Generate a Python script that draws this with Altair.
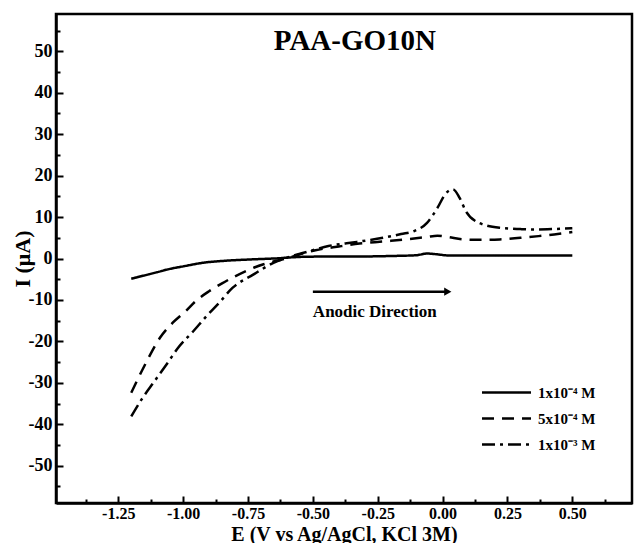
import altair as alt
import pandas as pd

# Cyclic voltammetry of PAA-GO10N, anodic sweep (E in V vs Ag/AgCl, I in µA)
E_low = [-1.20, -1.15, -1.10, -1.05, -1.00, -0.92, -0.85, -0.73, -0.65, -0.54, -0.40,
         -0.30, -0.20, -0.10, -0.06, -0.02, 0.03, 0.10, 0.20, 0.30, 0.40, 0.50]
I_low = [-4.9, -4.1, -3.3, -2.5, -1.9, -1.0, -0.6, -0.2, 0.0, 0.4, 0.5,
         0.5, 0.6, 0.8, 1.2, 1.0, 0.7, 0.7, 0.7, 0.7, 0.7, 0.7]

E_mid = [-1.20, -1.15, -1.09, -1.04, -0.99, -0.95, -0.90, -0.85, -0.80, -0.75, -0.69,
         -0.61, -0.49, -0.40, -0.32, -0.23, -0.14, -0.06, -0.02, 0.02, 0.08, 0.15,
         0.22, 0.30, 0.37, 0.43, 0.50]
I_mid = [-32.4, -26.0, -19.2, -15.5, -12.7, -10.2, -7.9, -6.0, -4.3, -2.8, -1.4,
         -0.1, 2.0, 2.9, 3.6, 4.1, 4.6, 5.2, 5.5, 5.2, 4.6, 4.5,
         4.6, 5.0, 5.4, 5.8, 6.4]

E_high = [-1.20, -1.16, -1.11, -1.06, -1.02, -0.96, -0.91, -0.86, -0.81, -0.73, -0.65,
          -0.60, -0.50, -0.44, -0.33, -0.23, -0.16, -0.11, -0.06, -0.02, 0.01, 0.04,
          0.065, 0.09, 0.14, 0.22, 0.30, 0.35, 0.42, 0.50]
I_high = [-38.1, -34.0, -29.6, -25.2, -21.6, -17.5, -13.9, -10.6, -7.1, -3.9, -1.0,
          0.2, 2.0, 3.0, 4.0, 5.0, 5.9, 6.6, 8.6, 12.2, 15.5, 16.7,
          14.7, 11.4, 8.6, 7.4, 7.1, 7.0, 7.1, 7.3]

series_names = ["1x10\u207b\u2074 M", "5x10\u207b\u2074 M", "1x10\u207b\u00b3 M"]
series_dash = [[1, 0], [12, 8], [13, 5, 3, 5]]

# Axis tick positions
x_major = [-1.25, -1.00, -0.75, -0.50, -0.25, 0.00, 0.25, 0.50]
x_minor = [-1.375, -1.125, -0.875, -0.625, -0.375, -0.125, 0.125, 0.375, 0.625]
y_major = [-50, -40, -30, -20, -10, 0, 10, 20, 30, 40, 50]
y_minor = [-55, -45, -35, -25, -15, -5, 5, 15, 25, 35, 45, 55]

# Annotations
title_text = ["PAA-GO10N"]
title_E = [-0.338]
title_I = [52.4]
arrow_E = [-0.50]
arrow_E2 = [0.02]
arrow_I = [-8.0]
note_text = ["Anodic Direction"]
note_E = [-0.50]
note_I = [-12.9]

FONT = "Liberation Serif, Times New Roman, serif"

frames = []
for name, e, i in [(series_names[0], E_low, I_low),
                   (series_names[1], E_mid, I_mid),
                   (series_names[2], E_high, I_high)]:
    frames.append(pd.DataFrame({"E": e, "I": i, "conc": name}))
cv = pd.concat(frames, ignore_index=True)

xscale = alt.Scale(domain=[-1.49, 0.73], nice=False, zero=False)
yscale = alt.Scale(domain=[-59, 59], nice=False, zero=False)

x_axis = alt.Axis(
    values=x_major, orient="bottom", grid=False,
    tickSize={"expr": "-7"}, tickWidth=2, tickColor="black",
    domainWidth=2.5, domainColor="black",
    labelExpr="replace(format(datum.value, '.2f'), '\u2212', '-')",
    labelFont=FONT, labelFontWeight="bold", labelFontSize=16, labelColor="black",
    labelPadding=9, labelFlush=False, labelOverlap=False,
    title="E (V vs Ag/AgCl, KCl 3M)", titleFont=FONT, titleFontWeight="bold",
    titleFontSize=20, titleColor="black", titleY=37, titleBaseline="alphabetic",
)
y_axis = alt.Axis(
    values=y_major, orient="left", grid=False,
    tickSize={"expr": "-7"}, tickWidth=2, tickColor="black",
    domainWidth=2.5, domainColor="black",
    labelExpr="replace(format(datum.value, 'd'), '\u2212', '-')",
    labelFont=FONT, labelFontWeight="bold", labelFontSize=18, labelColor="black",
    labelPadding=11, labelFlush=False, labelOverlap=False,
    title="I (\u03bcA)", titleFont=FONT, titleFontWeight="bold",
    titleFontSize=22, titleColor="black", titleX=-34, titleBaseline="middle",
)
x_axis_minor = alt.Axis(
    values=x_minor, orient="bottom", grid=False, labels=False, domain=False,
    tickSize={"expr": "-4"}, tickWidth=2, tickColor="black", title=None,
)
y_axis_minor = alt.Axis(
    values=y_minor, orient="left", grid=False, labels=False, domain=False,
    tickSize={"expr": "-4"}, tickWidth=2, tickColor="black", title=None,
)

curves = alt.Chart(cv).mark_line(
    color="black", strokeWidth=2.5, interpolate="monotone"
).encode(
    x=alt.X("E:Q", scale=xscale, axis=x_axis),
    y=alt.Y("I:Q", scale=yscale, axis=y_axis),
    strokeDash=alt.StrokeDash(
        "conc:N",
        scale=alt.Scale(domain=series_names, range=series_dash),
        sort=series_names,
        legend=alt.Legend(
            title=None, orient="none", legendX=443, legendY=371,
            symbolType="M-5,0H5", symbolSize=96, symbolStrokeWidth=2.5,
            symbolStrokeColor="black", symbolFillColor="black",
            labelFont=FONT, labelFontWeight="bold", labelFontSize=15,
            labelColor="black", labelOffset=24, rowPadding=10,
        ),
    ),
    order=alt.Order("E:Q"),
)

minor = alt.Chart(cv).mark_point(opacity=0).encode(
    x=alt.X("E:Q", scale=xscale, axis=x_axis_minor),
    y=alt.Y("I:Q", scale=yscale, axis=y_axis_minor),
)

title_layer = alt.Chart(pd.DataFrame({"E": title_E, "I": title_I, "t": title_text})).mark_text(
    font=FONT, fontWeight="bold", fontSize=29, color="black", baseline="middle", align="center"
).encode(
    x=alt.X("E:Q", scale=xscale, axis=None),
    y=alt.Y("I:Q", scale=yscale, axis=None),
    text="t:N",
)

arrow_line = alt.Chart(pd.DataFrame({"E": arrow_E, "E2": arrow_E2, "I": arrow_I})).mark_rule(
    color="black", strokeWidth=2.5
).encode(
    x=alt.X("E:Q", scale=xscale, axis=None),
    x2="E2:Q",
    y=alt.Y("I:Q", scale=yscale, axis=None),
)

arrow_head = alt.Chart(pd.DataFrame({"E": arrow_E2, "I": arrow_I})).mark_point(
    shape="triangle-right", filled=True, color="black", size=70, opacity=1
).encode(
    x=alt.X("E:Q", scale=xscale, axis=None),
    y=alt.Y("I:Q", scale=yscale, axis=None),
)

note_layer = alt.Chart(pd.DataFrame({"E": note_E, "I": note_I, "t": note_text})).mark_text(
    font=FONT, fontWeight="bold", fontSize=17, color="black", baseline="middle", align="left"
).encode(
    x=alt.X("E:Q", scale=xscale, axis=None),
    y=alt.Y("I:Q", scale=yscale, axis=None),
    text="t:N",
)

chart = alt.layer(
    minor, curves, title_layer, arrow_line, arrow_head, note_layer
).resolve_axis(
    x="independent", y="independent"
).properties(
    width=576, height=489,
    autosize=alt.AutoSizeParams(type="none"),
    padding={"left": 56, "top": 14, "right": 2, "bottom": 40},
    background="white",
).configure_view(
    stroke="black", strokeWidth=2.5
)

chart.save("out.html", embed_options={"renderer": "svg", "actions": False})
